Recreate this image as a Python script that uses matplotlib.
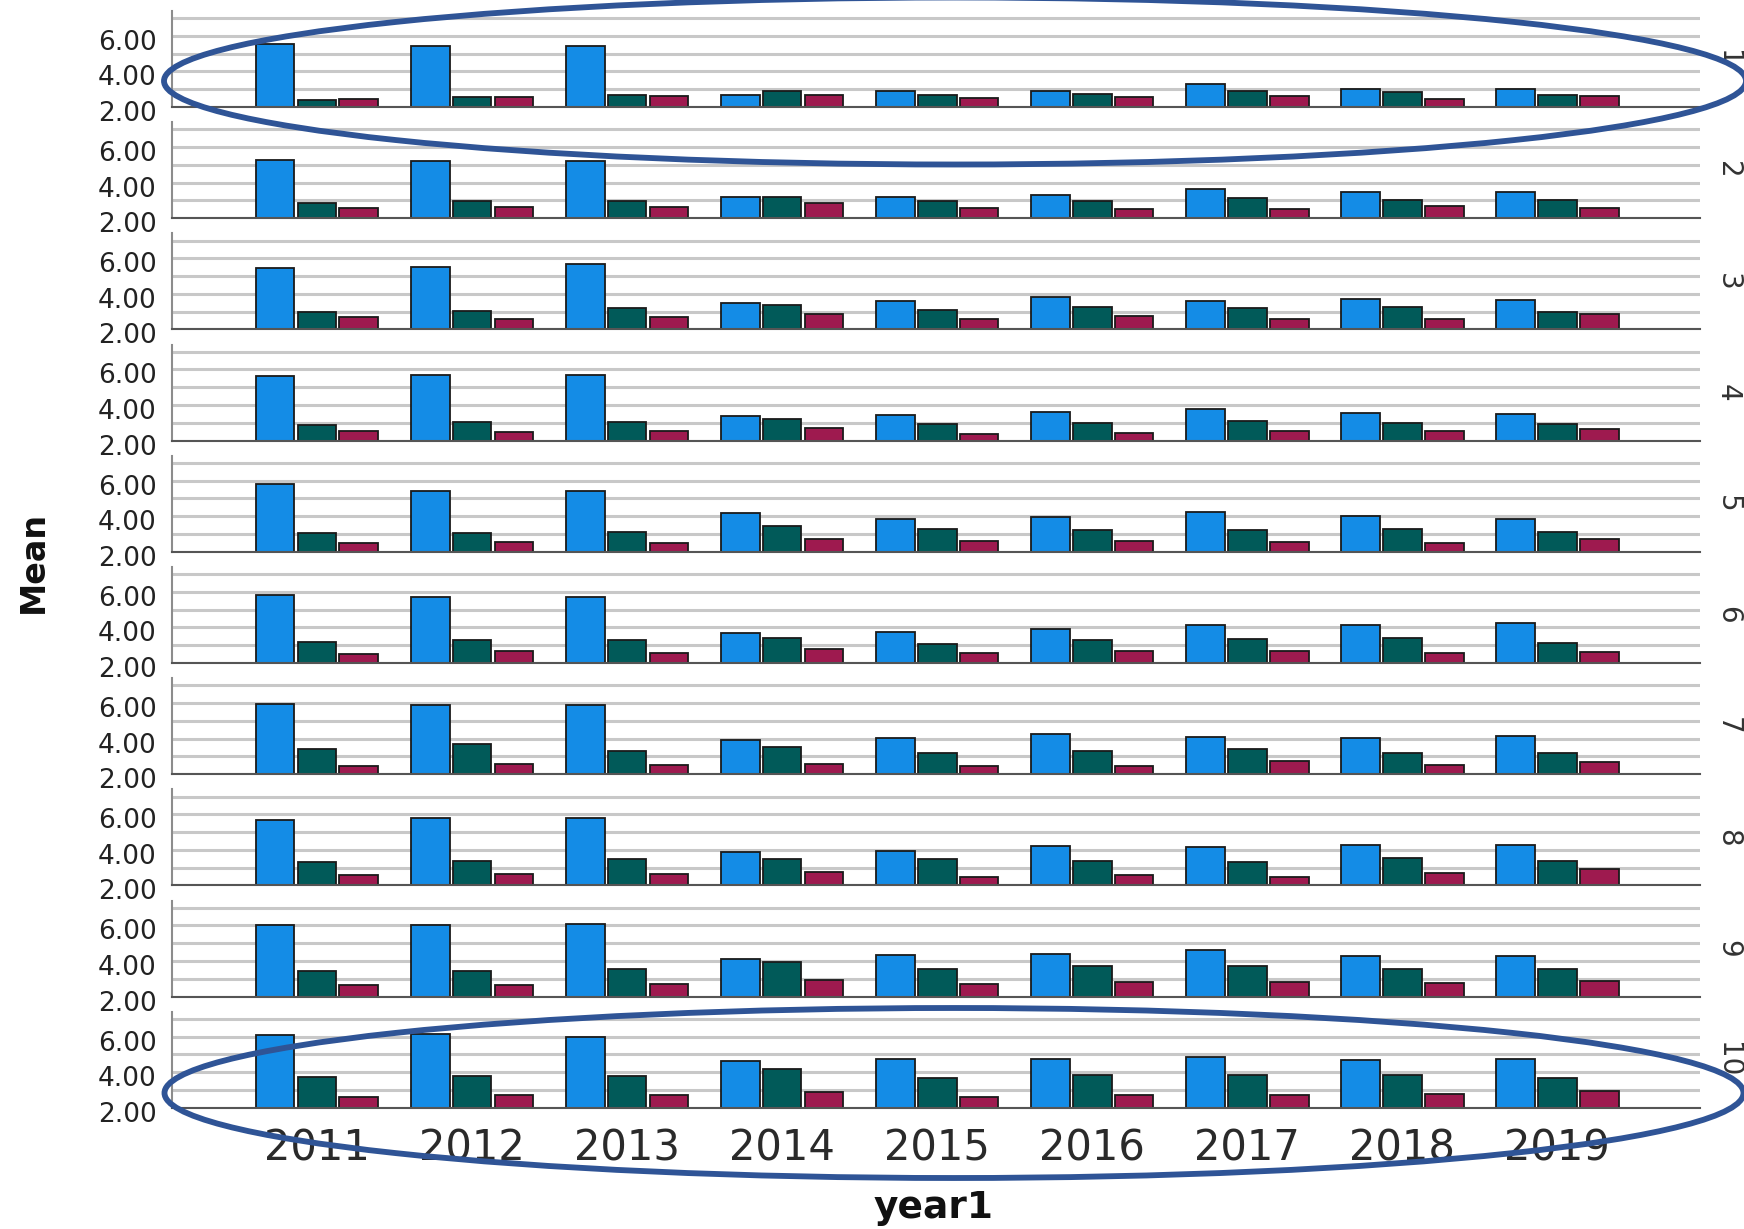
import matplotlib
matplotlib.use("Agg")
import matplotlib.pyplot as plt
from matplotlib.patches import Ellipse
from matplotlib.transforms import ScaledTranslation
import numpy as np

years = ["2011", "2012", "2013", "2014", "2015", "2016", "2017", "2018", "2019"]
panel_labels = ["1", "2", "3", "4", "5", "6", "7", "8", "9", "10"]

# mean per panel (rows) and year (columns), one list per bar series
blue_means = [
    [5.53, 5.42, 5.42, 2.66, 2.90, 2.92, 3.28, 3.01, 3.03],
    [5.30, 5.21, 5.23, 3.18, 3.18, 3.33, 3.62, 3.49, 3.46],
    [5.44, 5.53, 5.66, 3.47, 3.62, 3.82, 3.60, 3.71, 3.65],
    [5.65, 5.67, 5.70, 3.41, 3.44, 3.63, 3.78, 3.56, 3.48],
    [5.84, 5.42, 5.40, 4.19, 3.82, 3.93, 4.22, 4.04, 3.86],
    [5.81, 5.72, 5.70, 3.67, 3.76, 3.91, 4.15, 4.15, 4.26],
    [5.97, 5.91, 5.91, 3.93, 4.06, 4.28, 4.10, 4.04, 4.16],
    [5.66, 5.77, 5.77, 3.86, 3.95, 4.21, 4.18, 4.29, 4.29],
    [6.04, 6.04, 6.08, 4.12, 4.34, 4.40, 4.60, 4.31, 4.29],
    [6.09, 6.15, 6.00, 4.66, 4.75, 4.75, 4.84, 4.71, 4.75],
]
teal_means = [
    [2.37, 2.57, 2.66, 2.92, 2.66, 2.73, 2.92, 2.82, 2.68],
    [2.85, 2.94, 2.96, 3.18, 2.94, 2.94, 3.13, 3.01, 3.03],
    [2.97, 3.04, 3.21, 3.36, 3.08, 3.25, 3.23, 3.25, 2.99],
    [2.87, 3.02, 3.02, 3.19, 2.91, 3.00, 3.09, 3.00, 2.91],
    [3.08, 3.08, 3.10, 3.45, 3.29, 3.21, 3.21, 3.27, 3.12],
    [3.19, 3.30, 3.30, 3.41, 3.09, 3.30, 3.35, 3.41, 3.13],
    [3.42, 3.69, 3.31, 3.54, 3.18, 3.31, 3.44, 3.22, 3.20],
    [3.34, 3.39, 3.49, 3.49, 3.49, 3.36, 3.34, 3.54, 3.36],
    [3.42, 3.42, 3.57, 3.92, 3.57, 3.70, 3.70, 3.57, 3.55],
    [3.73, 3.78, 3.78, 4.17, 3.67, 3.82, 3.82, 3.82, 3.67],
]
maroon_means = [
    [2.46, 2.55, 2.60, 2.66, 2.51, 2.55, 2.60, 2.46, 2.60],
    [2.59, 2.65, 2.63, 2.87, 2.59, 2.50, 2.50, 2.70, 2.55],
    [2.72, 2.61, 2.72, 2.87, 2.61, 2.74, 2.56, 2.61, 2.84],
    [2.52, 2.46, 2.56, 2.70, 2.37, 2.44, 2.54, 2.54, 2.65],
    [2.50, 2.55, 2.50, 2.74, 2.63, 2.63, 2.55, 2.51, 2.72],
    [2.52, 2.65, 2.57, 2.81, 2.56, 2.67, 2.69, 2.57, 2.61],
    [2.47, 2.60, 2.52, 2.60, 2.47, 2.47, 2.72, 2.49, 2.66],
    [2.61, 2.65, 2.65, 2.74, 2.50, 2.61, 2.50, 2.71, 2.91],
    [2.68, 2.68, 2.70, 2.96, 2.72, 2.81, 2.81, 2.79, 2.87],
    [2.61, 2.71, 2.71, 2.89, 2.63, 2.74, 2.71, 2.80, 2.95],
]

colors = ["#148ce6", "#015a59", "#9e1a4f"]

W, H = 1744, 1229
fig = plt.figure(figsize=(W / 100, H / 100), dpi=100)

x = np.arange(len(years))
bw = 0.25
off = 0.27
down = ScaledTranslation(0, -4 / 100, fig.dpi_scale_trans)

for i in range(10):
    bottom_px = 107 + i * 111.2
    ax = fig.add_axes([172 / W, 1 - bottom_px / H, (1700 - 172) / W, 96 / H])
    for k, series in enumerate([blue_means, teal_means, maroon_means]):
        ax.bar(x + (k - 1) * off, series[i], width=bw, color=colors[k],
               edgecolor="#1a1a1a", linewidth=1.3, zorder=3)
    ax.set_ylim(2, 7.4)
    ax.set_xlim(-0.935, 8.92)
    ax.set_yticks([2, 4, 6])
    ax.set_yticklabels(["2.00", "4.00", "6.00"])
    for g in range(2, 8):
        ax.axhline(g, color="#c8c8c8", lw=2.2, zorder=1)
    ax.tick_params(axis="y", length=0, pad=11, labelsize=19, labelcolor="#222222")
    for lab in ax.get_yticklabels():
        lab.set_transform(lab.get_transform() + down)
    for s in ["top", "right"]:
        ax.spines[s].set_visible(False)
    ax.spines["left"].set_color("#8c8c8c")
    ax.spines["left"].set_linewidth(1.5)
    ax.spines["bottom"].set_color("#555555")
    ax.spines["bottom"].set_linewidth(1.5)
    ax.spines["bottom"].set_zorder(4)
    ax.set_xticks(x)
    if i == 9:
        ax.set_xticklabels(years)
        ax.tick_params(axis="x", length=0, pad=14, labelsize=30, labelcolor="#2a2a2a")
    else:
        ax.set_xticklabels([])
        ax.tick_params(axis="x", length=0)
    fig.text(1742 / W, 1 - (bottom_px - 48) / H, panel_labels[i], rotation=270,
             ha="right", va="center", fontsize=20, color="#333333")

fig.text(33 / W, 1 - 562 / H, "Mean", rotation=90, ha="center", va="center",
         fontsize=24, fontweight="bold", color="#111111")
fig.text(934 / W, 1 - 1208 / H, "year1", ha="center", va="center",
         fontsize=27, fontweight="bold", color="#111111")

# overlay for the two highlight ellipses
ov = fig.add_axes([0, 0, 1, 1], zorder=10)
ov.set_xlim(0, W)
ov.set_ylim(H, 0)
ov.axis("off")
ov.patch.set_alpha(0)
ov.add_patch(Ellipse((955, 81), 1582, 167, fill=False, edgecolor="#2f5496",
                     linewidth=4.2, clip_on=False))
ov.add_patch(Ellipse((954, 1093), 1579, 170, fill=False, edgecolor="#2f5496",
                     linewidth=4.2, clip_on=False))

fig.savefig("out.png", dpi=100)
